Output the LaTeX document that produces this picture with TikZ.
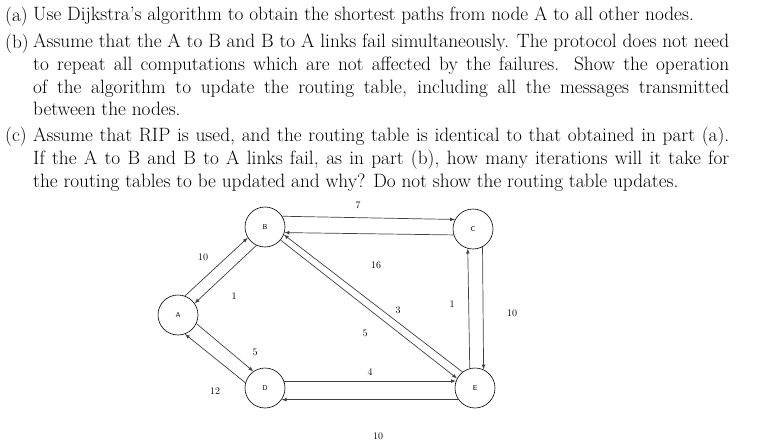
\documentclass[tikz,border=0pt]{standalone}
\begin{document}
\begin{tikzpicture}[x=1pt,y=-1pt,
  nd/.style={circle,draw,line width=0.6pt,minimum size=40pt,inner sep=0pt,font=\sffamily\fontsize{7}{8}\selectfont},
  ar/.style={draw=black!75,line width=0.7pt,-latex},
  lb/.style={font=\fontsize{10}{12}\selectfont},
  body/.style={anchor=north west,text width=696pt,align=justify,inner sep=0pt,font=\fontsize{19.3}{22.7}\selectfont},
  tag/.style={anchor=north west,inner sep=0pt,font=\fontsize{19.3}{22.7}\selectfont}]
\useasboundingbox (0,0) rectangle (766,444);
\node[tag] (ta) at (5,7) {(a)};
\node[body] (pa) at (33,7) {Use Dijkstra's algorithm to obtain the shortest paths from node A to all other nodes.};
\node[tag] (tb) at (5,34) {(b)};
\node[body] (pb) at (33,34) {Assume that the A to B and B to A links fail simultaneously. The protocol does not need\linebreak to repeat all computations which are not affected by the failures. Show the operation\linebreak of the algorithm to update the routing table, including all the messages transmitted\linebreak between the nodes.};
\node[tag] (tc) at (5,127) {(c)};
\node[body] (pc) at (33,127) {Assume that RIP is used, and the routing table is identical to that obtained in part (a).\linebreak If the A to B and B to A links fail, as in part (b), how many iterations will it take for\linebreak the routing tables to be updated and why? Do not show the routing table updates.};
\node[nd] (B) at (265,227) {B};
\node[nd] (C) at (473,229) {C};
\node[nd] (A) at (178,315) {A};
\node[nd] (D) at (265,388) {D};
\node[nd] (E) at (475,388) {E};
\draw[ar] (B.32) -- (C.152);
\draw[ar] (C.197) -- (B.-16);
\draw[ar] (D.20) -- (E.160);
\draw[ar] (E.215) -- (D.-35);
\draw[ar] (C.-62) -- (E.65);
\draw[ar] (E.105) -- (C.-105);
\draw[ar] (B.-40) -- (E.152);
\draw[ar] (E.128) -- (B.-22);
\draw[ar] (A.70) -- (B.212);
\draw[ar] (B.245) -- (A.35);
\draw[ar] (A.-25) -- (D.125);
\draw[ar] (D.165) -- (A.-70);
\node[lb] (l1) at (358,205) {7};
\node[lb] (l2) at (376,265) {16};
\node[lb] (l3) at (203,257) {10};
\node[lb] (l4) at (234,296) {1};
\node[lb] (l5) at (398,310) {3};
\node[lb] (l6) at (365,333) {5};
\node[lb] (l7) at (452,304) {1};
\node[lb] (l8) at (512,313) {10};
\node[lb] (l9) at (255,352) {5};
\node[lb] (l10) at (215,391) {12};
\node[lb] (l11) at (370,372) {4};
\node[lb] (l12) at (378,436) {10};
\end{tikzpicture}
\end{document}
